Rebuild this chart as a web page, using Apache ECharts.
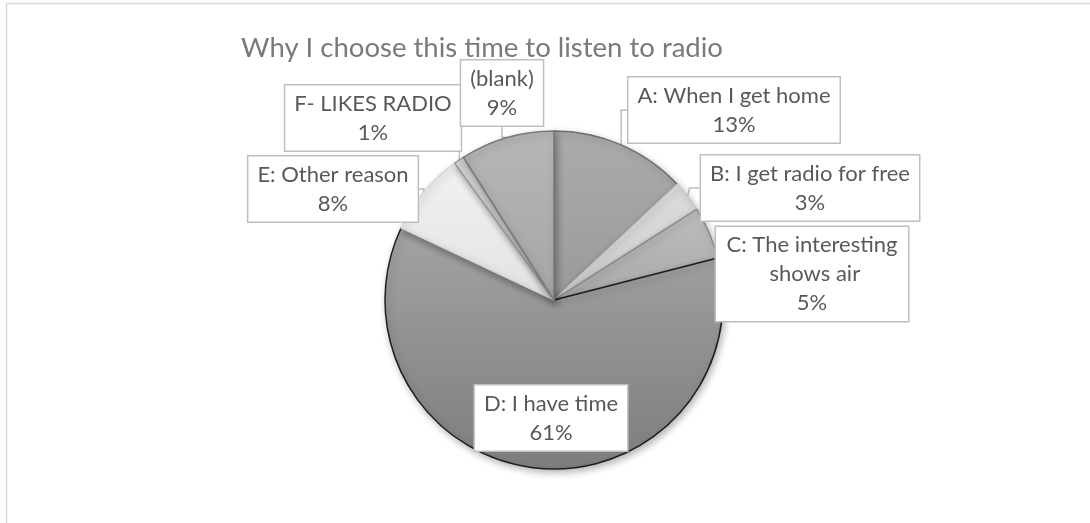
<!DOCTYPE html>
<html>
<head>
<meta charset="utf-8">
<script src="https://cdn.jsdelivr.net/npm/echarts@6/dist/echarts.min.js"></script>
<style>
  html, body { margin: 0; padding: 0; background: #ffffff; }
  #chart { width: 1090px; height: 523px; }
</style>
</head>
<body>
<div id="chart"></div>
<script>
// Survey answers: share of listeners per reason (percent)
const categories = [
  'A: When I get home',
  'B: I get radio for free',
  'C: The interesting shows air',
  'D: I have time',
  'E: Other reason',
  'F- LIKES RADIO',
  '(blank)'
];
const shares = [13, 3, 5, 61, 8, 1, 9];

// Monochrome slice fills (top, bottom of gradient) and outlines
const sliceFill = [
  ['#ababab', '#9a9a9a'],
  ['#dcdcdc', '#cdcdcd'],
  ['#bdbdbd', '#a9a9a9'],
  ['#a3a3a3', '#7d7d7d'],
  ['#f1f1f1', '#e3e3e3'],
  ['#d6d6d6', '#c8c8c8'],
  ['#b6b6b6', '#a6a6a6']
];
const sliceEdge = ['#6f6f6f', '#c9c9c9', '#8a8a8a', '#1e1e1e', '#d6d6d6', '#9a9a9a', '#7a7a7a'];

// Callout box centres around the pie
const calloutPos = [
  [734, 110], [810, 188], [812, 274], [551, 418], [333, 189], [373, 118], [502, 93]
];

const FONT = 'Lato';

const pieData = categories.map((name, i) => {
  const item = {
    name: name,
    value: shares[i],
    itemStyle: {
      color: new echarts.graphic.LinearGradient(0, 0, 0, 1, [
        { offset: 0, color: sliceFill[i][0] },
        { offset: 1, color: sliceFill[i][1] }
      ]),
      borderColor: sliceEdge[i]
    }
  };
  if (i === 2) {
    item.label = { width: 174, overflow: 'break' };
  }
  return item;
});

const chart = echarts.init(document.getElementById('chart'), null, { renderer: 'canvas' });

chart.setOption({
  animation: false,
  backgroundColor: '#ffffff',
  title: {
    text: 'Why I choose this time to listen to radio',
    left: 482,
    top: 34,
    textAlign: 'center',
    padding: 0,
    textStyle: {
      fontFamily: FONT,
      fontSize: 27.5,
      fontWeight: 'normal',
      color: '#7a7a7a'
    }
  },
  graphic: [{
    type: 'rect',
    silent: true,
    z: -10,
    shape: { x: 6.5, y: 3.5, width: 1200, height: 800 },
    style: { fill: 'none', stroke: '#d9d9d9', lineWidth: 1.5 }
  }],
  series: [{
    type: 'pie',
    center: [554, 300],
    radius: [0, 169],
    startAngle: 90,
    clockwise: true,
    avoidLabelOverlap: false,
    silent: true,
    data: pieData,
    itemStyle: {
      borderWidth: 1.5,
      shadowBlur: 7,
      shadowOffsetX: 2,
      shadowOffsetY: 3,
      shadowColor: 'rgba(0,0,0,0.28)'
    },
    label: {
      show: true,
      position: 'outside',
      formatter: p => p.name + '\n' + Math.round(p.percent) + '%',
      fontFamily: FONT,
      fontSize: 22,
      lineHeight: 29,
      color: '#595959',
      align: 'center',
      backgroundColor: '#ffffff',
      borderColor: '#bfbfbf',
      borderWidth: 1.5,
      padding: [4, 9, 3, 9]
    },
    labelLine: {
      show: true,
      length: 10,
      length2: 10,
      lineStyle: { color: '#bfbfbf', width: 1.5 }
    },
    labelLayout: function (params) {
      const pos = calloutPos[params.dataIndex];
      return {
        x: pos[0],
        y: pos[1],
        align: 'center',
        verticalAlign: 'middle'
      };
    }
  }]
});
</script>
</body>
</html>
